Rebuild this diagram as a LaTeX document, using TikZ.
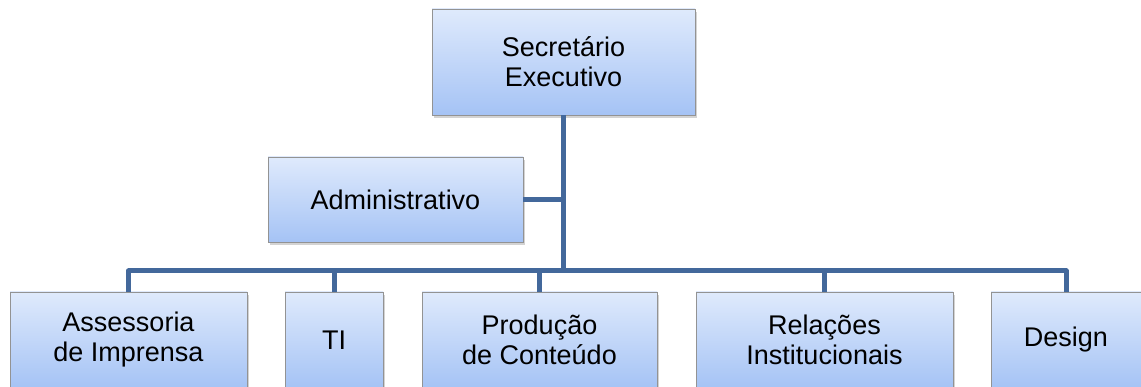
\documentclass[tikz,border=0pt]{standalone}
\usepackage{fontspec}
\setmainfont{Liberation Sans}
\usetikzlibrary{shadows}

\begin{document}
\begin{tikzpicture}[x=1pt, y=-1pt,
    unit/.style={draw=gray!85, line width=0.8pt, top color=unittop, bottom color=unitbot,
                 align=center, inner sep=0pt, font=\fontsize{27}{30}\selectfont,
                 drop shadow={opacity=0.35, shadow xshift=2pt, shadow yshift=-3pt}},
    conn/.style={draw=linkblue, line width=5pt, line join=round}]
\definecolor{linkblue}{HTML}{43689B}
\definecolor{unittop}{HTML}{DFEAFC}
\definecolor{unitbot}{HTML}{A5C3F5}
\useasboundingbox (0,0) rectangle (1141,387);

\node[unit, minimum width=263pt, minimum height=106pt] (sec) at (563.5,62) {Secretário\\Executivo};
\node[unit, minimum width=255pt, minimum height=85pt] (adm) at (395.5,199.5) {Administrativo};

\node[unit, minimum width=237pt, minimum height=96pt] (ass) at (128.5,340) {Assessoria\\de Imprensa};
\node[unit, minimum width=98pt, minimum height=96pt] (ti) at (334,340) {TI};
\node[unit, minimum width=235pt, minimum height=96pt] (prod) at (539.5,340) {Produção\\de Conteúdo};
\node[unit, minimum width=257pt, minimum height=96pt] (rel) at (824.5,340) {Relações\\Institucionais};
\node[unit, minimum width=150pt, minimum height=96pt] (des) at (1066,340) {Design};

\coordinate (bus) at (563,271);
\coordinate (side) at (563,199.5);

% connectors
\draw[conn] (sec.south -| bus) -- (bus);
\draw[conn] (adm.east) -- (side);
\draw[conn] (ass.north) |- (bus) -| (des.north);
\foreach \n in {ti,prod,rel}
  \draw[conn] (\n.north) -- (\n.north |- bus);
\end{tikzpicture}
\end{document}
